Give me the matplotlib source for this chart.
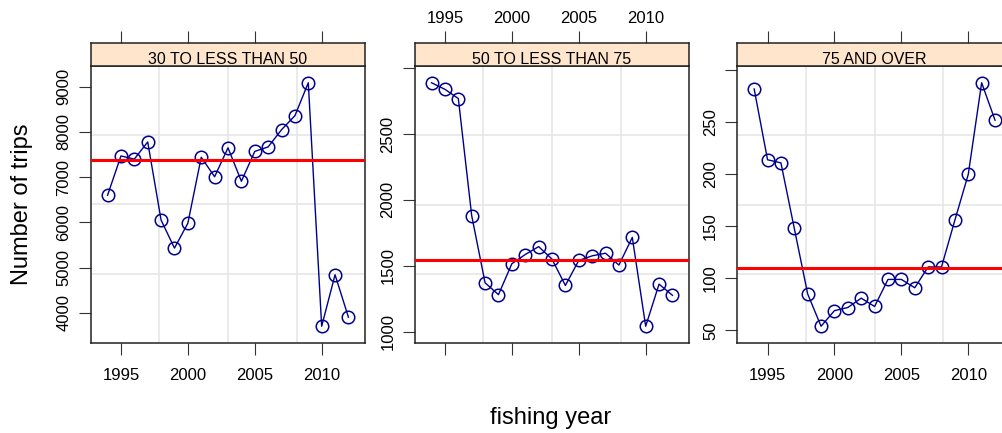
import matplotlib
matplotlib.use('Agg')
import matplotlib.pyplot as plt

# Fishing years and number of trips for each vessel-length class
years = list(range(1994, 2013))
trips_30_50 = [6600, 7470, 7400, 7780, 6050, 5430, 5980, 7440, 7010, 7650,
               6910, 7570, 7670, 8050, 8360, 9090, 3700, 4840, 3900]
trips_50_75 = [2890, 2840, 2770, 1880, 1370, 1280, 1515, 1585, 1645, 1550,
               1350, 1540, 1575, 1595, 1505, 1715, 1040, 1360, 1275]
trips_75_over = [282, 214, 211, 148, 85, 54, 69, 72, 81, 73,
                 99, 99, 91, 111, 111, 156, 200, 288, 252]

# Reference level drawn across each panel
ref_levels = [7380, 1545, 110]
panel_titles = ["30 TO LESS THAN 50", "50 TO LESS THAN 75", "75 AND OVER"]
series = [trips_30_50, trips_50_75, trips_75_over]

x_ticks = [1995, 2000, 2005, 2010]
y_ticks = [[4000, 5000, 6000, 7000, 8000, 9000],
           [1000, 1500, 2000, 2500, 3000],
           [50, 100, 150, 200, 250, 300]]
y_labels = [["4000", "5000", "6000", "7000", "8000", "9000"],
            ["1000", "1500", "2000", "2500", ""],
            ["50", "100", "150", "200", "250", ""]]

plt.rcParams['font.family'] = ['Liberation Sans', 'DejaVu Sans']

W, H = 1002, 433
fig = plt.figure(figsize=(W / 100, H / 100), dpi=100)


def px_box(left, top, right, bottom):
    # pixel box -> figure fraction [left, bottom, width, height]
    return [left / W, 1 - bottom / H, (right - left) / W, (bottom - top) / H]


def padded(lo, hi, frac=0.07):
    span = hi - lo
    return lo - frac * span, hi + frac * span


navy = '#00008B'
grid_col = '#e6e6e6'
panel_left = [90.7, 414.7, 737.3]
panel_w = 274.6
panel_top, panel_bottom, strip_top = 65.7, 343.3, 43.3

xlo, xhi = padded(min(years), max(years))

for i, vals in enumerate(series):
    left = panel_left[i]
    ax = fig.add_axes(px_box(left, panel_top, left + panel_w, panel_bottom))
    ylo, yhi = padded(min(vals), max(vals))
    ax.set_xlim(xlo, xhi)
    ax.set_ylim(ylo, yhi)

    # light reference grid, 3 lines each way
    for f in (0.25, 0.5, 0.75):
        ax.axvline(xlo + f * (xhi - xlo), color=grid_col, lw=1.2, zorder=0)
        ax.axhline(ylo + f * (yhi - ylo), color=grid_col, lw=1.2, zorder=0)

    ax.plot(years, vals, '-', color=navy, lw=1.0, zorder=2)
    ax.plot(years, vals, 'o', mfc='none', mec=navy, ms=9, mew=1.1, zorder=3)
    ax.axhline(ref_levels[i], color='red', lw=2.2, zorder=4)

    ax.set_yticks(y_ticks[i])
    ax.set_yticklabels(y_labels[i], rotation=90, va='center')
    ax.set_xticks(x_ticks)
    ax.tick_params(axis='both', direction='out', length=8.8, width=0.8,
                   labelsize=12, color='#333333')
    ax.tick_params(axis='y', pad=5)
    ax.tick_params(axis='x', pad=9, labelbottom=(i != 1))
    for sp in ax.spines.values():
        sp.set_linewidth(1.1)
        sp.set_color('#222222')

    # strip with the panel title
    sax = fig.add_axes(px_box(left, strip_top, left + panel_w, panel_top))
    sax.set_facecolor('#ffe5cc')
    sax.set_xlim(xlo, xhi)
    sax.set_xticks(x_ticks)
    sax.set_yticks([])
    sax.tick_params(axis='x', top=True, bottom=False, labelbottom=False,
                    labeltop=(i == 1), direction='out', length=8.8, width=0.8,
                    labelsize=12, pad=4, color='#333333')
    for sp in sax.spines.values():
        sp.set_linewidth(1.1)
        sp.set_color('#222222')
    sax.text(0.5, 0.08, panel_titles[i], transform=sax.transAxes,
             ha='center', va='baseline', fontsize=11.5)

fig.text(22 / W, 1 - 204 / H, "Number of trips", rotation=90,
         ha='center', va='center', fontsize=17)
fig.text(551 / W, 1 - 418 / H, "fishing year", ha='center', va='center',
         fontsize=17)

fig.savefig('out.png', dpi=100)
